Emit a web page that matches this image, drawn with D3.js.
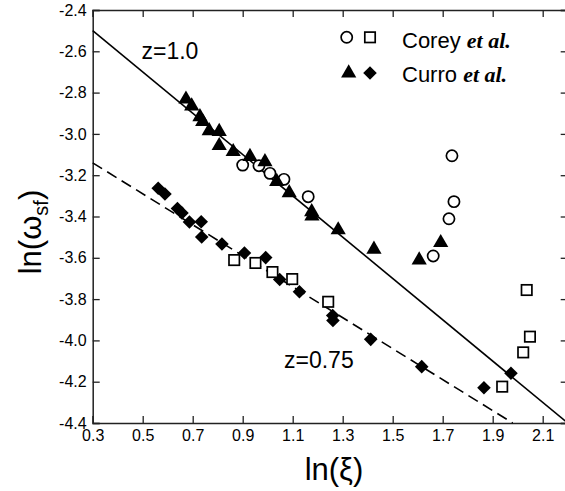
<!DOCTYPE html>
<html><head><meta charset="utf-8">
<script src="https://cdn.jsdelivr.net/npm/d3@7"></script>
<style>body{margin:0;background:#fff}svg{display:block}</style>
</head><body>
<svg id="c" width="565" height="491"></svg>
<script>
// Data
const xTicks = [0.3,0.5,0.7,0.9,1.1,1.3,1.5,1.7,1.9,2.1];
const yTicks = [-2.4,-2.6,-2.8,-3.0,-3.2,-3.4,-3.6,-3.8,-4.0,-4.2,-4.4];
const curroTriX = [0.673,0.696,0.729,0.740,0.766,0.806,0.806,0.862,0.929,0.989,1.036,1.086,1.176,1.177,1.282,1.425,1.606,1.692];
const curroTriY = [-2.832,-2.865,-2.917,-2.941,-2.985,-2.989,-3.057,-3.086,-3.110,-3.135,-3.231,-3.285,-3.377,-3.398,-3.465,-3.559,-3.611,-3.527];
const coreyCircX = [0.900,0.965,1.009,1.065,1.162,1.662,1.725,1.745,1.737];
const coreyCircY = [-3.151,-3.154,-3.191,-3.220,-3.304,-3.591,-3.411,-3.328,-3.106];
const curroDiaX = [0.562,0.589,0.639,0.657,0.687,0.734,0.736,0.817,0.907,0.992,1.048,1.127,1.260,1.261,1.412,1.616,1.865,1.973];
const curroDiaY = [-3.263,-3.291,-3.361,-3.383,-3.427,-3.425,-3.499,-3.533,-3.577,-3.599,-3.705,-3.764,-3.879,-3.904,-3.995,-4.127,-4.229,-4.159];
const coreySqX = [0.866,0.951,1.019,1.098,1.242,1.938,2.022,2.049,2.036];
const coreySqY = [-3.611,-3.625,-3.669,-3.703,-3.813,-4.224,-4.058,-3.982,-3.756];
const fitSolidX = [0.3,2.2];   // z=1.0
const fitSolidY = [-2.5,-4.4];
const fitDashX = [0.3,1.98];   // z=0.75
const fitDashY = [-3.14,-4.4];

const svg = d3.select("#c");
const x = d3.scaleLinear().domain([0.3,2.2]).range([92.7,567.7]);
const y = d3.scaleLinear().domain([-4.4,-2.4]).range([423,10]);
const axisColor = "#222";
const font = "Liberation Sans, Arial, sans-serif";

// axes
const tl = 7;
const gB = svg.append("g").attr("transform",`translate(0,${y(-4.4)})`)
  .call(d3.axisBottom(x).tickValues(xTicks).tickSize(-tl).tickPadding(4).tickFormat(d3.format(".1f")));
const gT = svg.append("g").attr("transform",`translate(0,${y(-2.4)})`)
  .call(d3.axisTop(x).tickValues(xTicks).tickSize(-tl).tickFormat(""));
const gL = svg.append("g").attr("transform",`translate(${x(0.3)},0)`)
  .call(d3.axisLeft(y).tickValues(yTicks).tickSize(-tl).tickPadding(6).tickFormat(d3.format(".1f")));
const gR = svg.append("g").attr("transform",`translate(${x(2.2)},0)`)
  .call(d3.axisRight(y).tickValues(yTicks).tickSize(-tl).tickFormat(""));
[gB,gT,gL,gR].forEach(g=>{
  g.select(".domain").attr("stroke",axisColor).attr("stroke-width",1.5);
  g.selectAll(".tick line").attr("stroke",axisColor).attr("stroke-width",1.3);
  g.selectAll(".tick text").attr("font-family",font).attr("font-size",16).attr("fill","#000");
});
gL.selectAll(".tick text").text(d=>d3.format(".1f")(d).replace("−","-"));
gB.selectAll(".tick text").attr("dy","0.9em");

// fit lines
const line = d3.line().x(d=>x(d[0])).y(d=>y(d[1]));
svg.append("path").datum(fitSolidX.map((v,i)=>[v,fitSolidY[i]]))
  .attr("d",line).attr("stroke","#000").attr("stroke-width",1.6).attr("fill","none");
svg.append("path").datum(fitDashX.map((v,i)=>[v,fitDashY[i]]))
  .attr("d",line).attr("stroke","#000").attr("stroke-width",1.6).attr("fill","none")
  .attr("stroke-dasharray","11,6");

// markers
const tri = d3.symbol().type(d3.symbolTriangle).size(100)();
const dia = d3.symbol().type(d3.symbolSquare).size(92)();
function pts(xs,ys){return xs.map((v,i)=>[v,ys[i]]);}
svg.append("g").selectAll("path").data(pts(curroDiaX,curroDiaY)).join("path")
  .attr("d",dia).attr("transform",d=>`translate(${x(d[0])},${y(d[1])}) rotate(45)`).attr("fill","#000");
svg.append("g").selectAll("rect").data(pts(coreySqX,coreySqY)).join("rect")
  .attr("x",d=>x(d[0])-5.2).attr("y",d=>y(d[1])-5.2).attr("width",10.4).attr("height",10.4)
  .attr("fill","#fff").attr("stroke","#000").attr("stroke-width",1.7);
svg.append("g").selectAll("circle").data(pts(coreyCircX,coreyCircY)).join("circle")
  .attr("cx",d=>x(d[0])).attr("cy",d=>y(d[1])).attr("r",5.6)
  .attr("fill","#fff").attr("stroke","#000").attr("stroke-width",1.7);
svg.append("g").selectAll("path").data(pts(curroTriX,curroTriY)).join("path")
  .attr("d",tri).attr("transform",d=>`translate(${x(d[0])},${y(d[1])})`).attr("fill","#000");

// legend
const lg = svg.append("g");
lg.append("circle").attr("cx",346.7).attr("cy",37.3).attr("r",5.6).attr("fill","#fff").attr("stroke","#000").attr("stroke-width",1.7);
lg.append("rect").attr("x",364.8).attr("y",32.1).attr("width",10.4).attr("height",10.4).attr("fill","#fff").attr("stroke","#000").attr("stroke-width",1.7);
lg.append("path").attr("d",tri).attr("transform","translate(348.7,73)").attr("fill","#000");
lg.append("path").attr("d",dia).attr("transform","translate(370,73) rotate(45)").attr("fill","#000");
const legendNames = ["Corey","Curro"];
legendNames.forEach((n,i)=>{
  const t = lg.append("text").attr("x",402).attr("y",i?81.5:48.3).attr("font-family",font).attr("font-size",22);
  t.append("tspan").text(n+" ");
  t.append("tspan").attr("font-family","Liberation Serif, Times New Roman, serif").attr("font-weight","bold").attr("font-style","italic").text("et al.");
});

// annotations
svg.append("text").attr("x",141.5).attr("y",59).attr("font-family",font).attr("font-size",23).text("z=1.0");
svg.append("text").attr("x",284).attr("y",368).attr("font-family",font).attr("font-size",23).text("z=0.75");

// axis titles
svg.append("text").attr("x",334).attr("y",480).attr("text-anchor","middle").attr("font-family",font).attr("font-size",31).text("ln(ξ)");
const yt = svg.append("text").attr("transform","translate(41,232) rotate(-90)").attr("text-anchor","middle").attr("font-family",font).attr("font-size",31);
yt.append("tspan").text("ln(ω");
yt.append("tspan").attr("font-size",20).attr("dy",7).text("sf");
yt.append("tspan").attr("dy",-7).text(")");
</script>
</body></html>
